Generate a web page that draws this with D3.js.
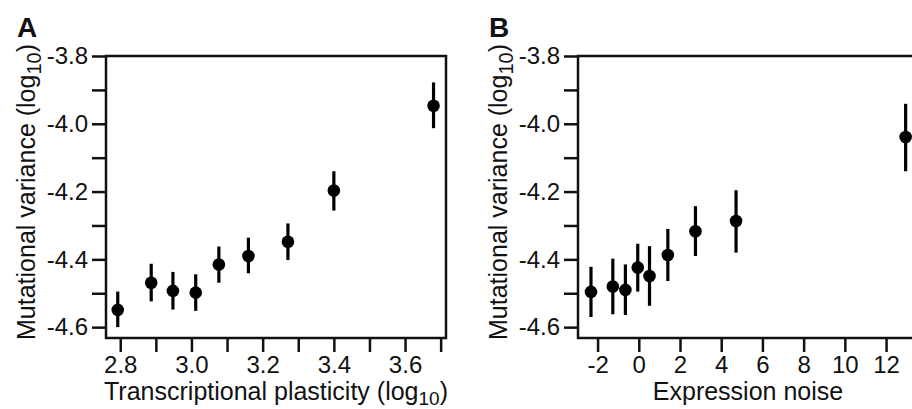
<!DOCTYPE html>
<html>
<head>
<meta charset="utf-8">
<script src="https://cdn.jsdelivr.net/npm/d3@7/dist/d3.min.js"></script>
<style>
  html, body { margin: 0; padding: 0; background: #fff; }
  svg { display: block; }
  text { font-family: "Liberation Sans", Arial, Helvetica, sans-serif; fill: #111; }
</style>
</head>
<body>
<svg id="chart" width="912" height="409"></svg>
<script>
// ---- Data ----
const plasticityX   = [2.793, 2.887, 2.948, 3.012, 3.077, 3.160, 3.271, 3.400, 3.680];
const plasticityY   = [-4.549, -4.469, -4.493, -4.498, -4.415, -4.390, -4.348, -4.197, -3.947];
const plasticityLo  = [-4.600, -4.524, -4.548, -4.552, -4.469, -4.441, -4.402, -4.256, -4.013];
const plasticityHi  = [-4.495, -4.413, -4.437, -4.444, -4.362, -4.336, -4.294, -4.140, -3.878];

const noiseX  = [-2.32, -1.26, -0.65, -0.05, 0.52, 1.41, 2.75, 4.72, 12.95];
const noiseY  = [-4.496, -4.480, -4.490, -4.424, -4.449, -4.387, -4.317, -4.287, -4.039];
const noiseLo = [-4.570, -4.562, -4.564, -4.495, -4.537, -4.464, -4.390, -4.380, -4.140];
const noiseHi = [-4.422, -4.398, -4.415, -4.354, -4.361, -4.310, -4.243, -4.196, -3.941];

const yTicks       = [-3.8, -4.0, -4.2, -4.4, -4.6];
const yTickLabels  = ["-3.8", "-4.0", "-4.2", "-4.4", "-4.6"];
const yMinorTicks  = [-3.9, -4.1, -4.3, -4.5];

const aXTicks      = [2.8, 3.0, 3.2, 3.4, 3.6];
const aXTickLabels = ["2.8", "3.0", "3.2", "3.4", "3.6"];
const aXMinorTicks = [2.9, 3.1, 3.3, 3.5, 3.7];

const bXTicks      = [-2, 0, 2, 4, 6, 8, 10, 12];
const bXTickLabels = ["-2", "0", "2", "4", "6", "8", "10", "12"];
const bXMinorTicks = [];

const svg = d3.select("#chart");

function panel(opts) {
  const { left, top, width, height, xDomain, yDomain, xs, ys, lo, hi,
          xTicks, xTickLabels, xMinor, letter, xTitle, xSub } = opts;
  const x = d3.scaleLinear().domain(xDomain).range([left, left + width]);
  const y = d3.scaleLinear().domain(yDomain).range([top + height, top]);
  const g = svg.append("g");
  const tickLen = 14;

  // y ticks
  const yAxis = d3.axisLeft(y).tickValues(yTicks.concat(yMinorTicks))
    .tickSize(tickLen).tickPadding(4)
    .tickFormat(d => { const i = yTicks.indexOf(d); return i >= 0 ? yTickLabels[i] : ""; });
  const ya = g.append("g").attr("transform", `translate(${left},0)`).call(yAxis);
  ya.select(".domain").remove();
  ya.selectAll("line").attr("stroke", "#111").attr("stroke-width", 2.5);
  ya.selectAll("text").style("font-size", "24px").attr("fill", "#111")
    .style("font-family", '"Liberation Sans", Arial, Helvetica, sans-serif');

  // x ticks
  const xAxis = d3.axisBottom(x).tickValues(xTicks.concat(xMinor))
    .tickSize(tickLen).tickPadding(4)
    .tickFormat(d => { const i = xTicks.indexOf(d); return i >= 0 ? xTickLabels[i] : ""; });
  const xa = g.append("g").attr("transform", `translate(0,${top + height})`).call(xAxis);
  xa.select(".domain").remove();
  xa.selectAll("line").attr("stroke", "#111").attr("stroke-width", 2.5);
  xa.selectAll("text").style("font-size", "24px").attr("fill", "#111")
    .style("font-family", '"Liberation Sans", Arial, Helvetica, sans-serif');

  // frame
  g.append("rect").attr("x", left).attr("y", top).attr("width", width).attr("height", height)
    .attr("fill", "none").attr("stroke", "#111").attr("stroke-width", 2.5);

  // error bars
  g.selectAll(".err").data(xs.map((d, i) => i)).enter().append("line")
    .attr("x1", i => x(xs[i])).attr("x2", i => x(xs[i]))
    .attr("y1", i => y(lo[i])).attr("y2", i => y(hi[i]))
    .attr("stroke", "#000").attr("stroke-width", 3.2);
  // points
  g.selectAll(".pt").data(xs.map((d, i) => i)).enter().append("circle")
    .attr("cx", i => x(xs[i])).attr("cy", i => y(ys[i])).attr("r", 6.3).attr("fill", "#000");

  // panel letter
  g.append("text").attr("x", left - 89).attr("y", 37)
    .style("font-size", "28px").style("font-weight", "bold").text(letter);

  // y title
  const yt = g.append("text")
    .attr("transform", `translate(${left - 71},340) rotate(-90)`)
    .style("font-size", "25px").attr("text-anchor", "start");
  yt.append("tspan").text("Mutational variance (log");
  yt.append("tspan").attr("dy", 6).style("font-size", "20px").text("10");
  yt.append("tspan").attr("dy", -6).text(")");

  // x title
  const xt = g.append("text").attr("x", left + width / 2).attr("y", 400)
    .style("font-size", "25px").attr("text-anchor", "middle");
  xt.append("tspan").text(xTitle);
  if (xSub) {
    xt.append("tspan").attr("dy", 5).style("font-size", "19px").text("10");
    xt.append("tspan").attr("dy", -5).text(")");
  }
}

panel({
  left: 106, top: 56, width: 340, height: 282,
  xDomain: [2.76, 3.715], yDomain: [-4.632, -3.8],
  xs: plasticityX, ys: plasticityY, lo: plasticityLo, hi: plasticityHi,
  xTicks: aXTicks, xTickLabels: aXTickLabels, xMinor: aXMinorTicks,
  letter: "A", xTitle: "Transcriptional plasticity (log", xSub: true
});

panel({
  left: 578, top: 56, width: 340, height: 282,
  xDomain: [-2.95, 13.55], yDomain: [-4.632, -3.8],
  xs: noiseX, ys: noiseY, lo: noiseLo, hi: noiseHi,
  xTicks: bXTicks, xTickLabels: bXTickLabels, xMinor: bXMinorTicks,
  letter: "B", xTitle: "Expression noise", xSub: false
});
</script>
</body>
</html>
